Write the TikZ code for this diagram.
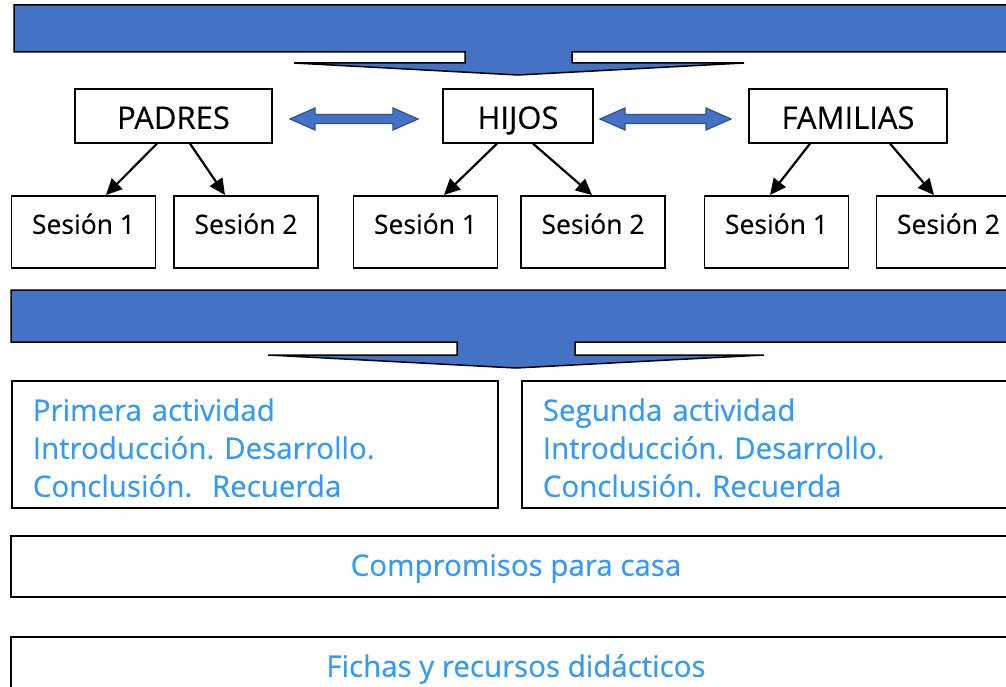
\documentclass[tikz,border=0pt]{standalone}
\usepackage{fontspec}
\setmainfont{Open Sans}[FakeBold=0.35]
\usetikzlibrary{arrows.meta}
\definecolor{bannerblue}{RGB}{68,114,196}
\definecolor{txtblue}{RGB}{51,153,255}
\definecolor{arrowedge}{RGB}{47,82,143}
\tikzset{
  banner/.style={draw=black, line width=1.5pt, fill=bannerblue, line join=miter},
  dblarrow/.style={draw=arrowedge, line width=1.2pt, fill=bannerblue},
  topbox/.style={draw, line width=1.6pt, anchor=north, minimum height=54pt, inner xsep=0pt, inner ysep=0pt,
     text height=40pt, text depth=14pt, font=\fontsize{31}{34}\selectfont},
  sesbox/.style={draw, line width=1.6pt, anchor=north, minimum width=144pt, minimum height=72pt, inner xsep=0pt, inner ysep=0pt,
     text height=38pt, text depth=34pt, font=\fontsize{26.5}{30}\selectfont},
  actbox/.style={draw, line width=1.6pt, anchor=north west, align=left, inner xsep=21pt, inner ysep=0pt,
     text=txtblue, text depth=87pt, font=\fontsize{29.5}{38}\selectfont\frenchspacing},
  widebox/.style={draw, line width=1.6pt, anchor=north, minimum width=1010pt, inner xsep=0pt, inner ysep=0pt,
     text=txtblue, font=\fontsize{29.5}{34}\selectfont},
  conn/.style={line width=2.2pt, -{Triangle[length=16pt,width=15pt]}},
}
\begin{document}
\begin{tikzpicture}[x=1pt,y=-1pt]
\useasboundingbox (0,0) rectangle (1006,687);

% banners
\draw[banner] (14,5) -- (1022,5) -- (1022,52) -- (572,52) -- (572,63) -- (744,63) -- (518,75)
  -- (294,63) -- (465,63) -- (465,52) -- (14,52) -- cycle;
\draw[banner] (11,290) -- (1022,290) -- (1022,342) -- (575,342) -- (575,355) -- (764,355) -- (516,368)
  -- (268,355) -- (457,355) -- (457,342) -- (11,342) -- cycle;

% top boxes
\node[topbox, minimum width=197pt] (padres) at (173.5,88) {PADRES};
\node[topbox, minimum width=150pt] (hijos) at (518,88) {HIJOS};
\node[topbox, minimum width=198pt] (familias) at (848,88) {FAMILIAS};

% double arrows
\draw[dblarrow] (290,119) -- (315,108) -- (315,114.5) -- (393,114.5) -- (393,108) -- (418,119)
  -- (393,130) -- (393,123.5) -- (315,123.5) -- (315,130) -- cycle;
\draw[dblarrow] (600,119) -- (625,108) -- (625,114.5) -- (706,114.5) -- (706,108) -- (731,119)
  -- (706,130) -- (706,123.5) -- (625,123.5) -- (625,130) -- cycle;

% session boxes
\node[sesbox] (s1) at (83.5,195) {Sesión 1};
\node[sesbox] (s2) at (246,195) {Sesión 2};
\node[sesbox] (s3) at (425.5,195) {Sesión 1};
\node[sesbox] (s4) at (593,195) {Sesión 2};
\node[sesbox] (s5) at (776.5,195) {Sesión 1};
\node[sesbox] (s6) at (948.5,195) {Sesión 2};

% connectors
\draw[conn] ([xshift=-16.5pt]padres.south) -- ([xshift=22.5pt]s1.north);
\draw[conn] ([xshift=16.5pt]padres.south) -- ([xshift=-21pt]s2.north);
\draw[conn] ([xshift=-21pt]hijos.south) -- ([xshift=18.5pt]s3.north);
\draw[conn] ([xshift=15pt]hijos.south) -- ([xshift=-1pt]s4.north);
\draw[conn] ([xshift=-38pt]familias.south) -- ([xshift=-6.5pt]s5.north);
\draw[conn] ([xshift=42pt]familias.south) -- ([xshift=-14.5pt]s6.north);

% activity boxes
\node[actbox, text width=444pt, minimum height=127pt] (act1) at (11,380)
  {\rule{0pt}{40pt}Primera actividad\\Introducción. Desarrollo.\\Conclusión.\ \ Recuerda};
\node[actbox, text width=459pt, minimum height=127pt] (act2) at (521,380)
  {\rule{0pt}{40pt}Segunda actividad\\Introducción. Desarrollo.\\Conclusión. Recuerda};

% wide boxes
\node[widebox, text height=40pt, text depth=21pt] (comp) at (516,535) {Compromisos para casa};
\node[widebox, text height=40pt, text depth=24pt] (fichas) at (516,636) {Fichas y recursos didácticos};
\end{tikzpicture}
\end{document}
